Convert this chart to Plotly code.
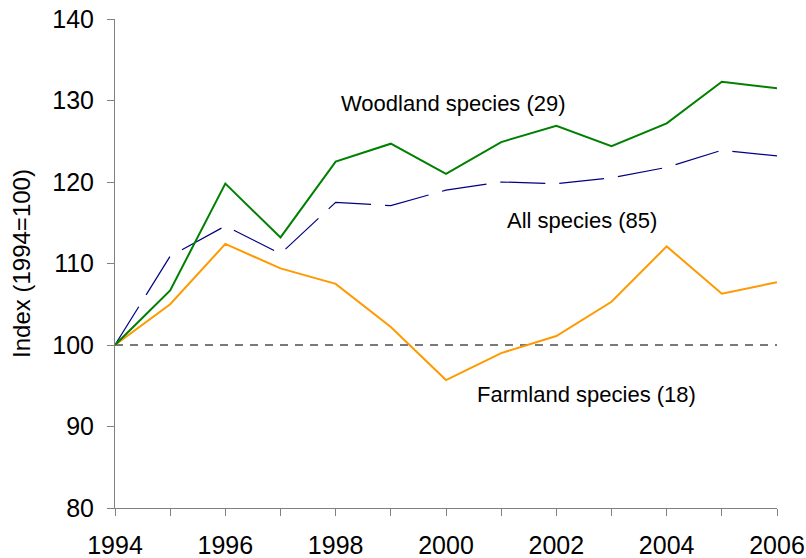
import plotly.graph_objects as go

years = list(range(1994, 2007))
woodland = [100, 106.7, 119.8, 113.2, 122.5, 124.7, 121.0, 124.9, 126.9, 124.4, 127.2, 132.3, 131.5]
all_species = [100, 110.9, 114.6, 111.2, 117.5, 117.1, 119.0, 120.0, 119.8, 120.5, 121.8, 123.9, 123.2]
farmland = [100, 105.0, 112.4, 109.4, 107.5, 102.2, 95.7, 99.0, 101.1, 105.3, 112.1, 106.3, 107.7]
baseline_x = [1994, 2006]
baseline_y = [100, 100]

labels = ["Woodland species (29)", "All species (85)", "Farmland species (18)"]
label_x = [2000.14, 2002.46, 2002.55]
label_y = [129.6, 115.3, 93.9]

font = "Liberation Sans, Arial, sans-serif"

fig = go.Figure()
fig.add_trace(go.Scatter(x=baseline_x, y=baseline_y, mode="lines",
                         line=dict(color="#4d4d4d", width=1.3, dash="8px,7px")))
fig.add_trace(go.Scatter(x=years, y=all_species, mode="lines",
                         line=dict(color="#000080", width=1.2, dash="45px,14px")))
fig.add_trace(go.Scatter(x=years, y=farmland, mode="lines",
                         line=dict(color="#FF9900", width=2)))
fig.add_trace(go.Scatter(x=years, y=woodland, mode="lines",
                         line=dict(color="#008000", width=2)))

for t, x, y in zip(labels, label_x, label_y):
    fig.add_annotation(x=x, y=y, text=t, showarrow=False,
                       font=dict(family=font, size=22, color="#000000"))

fig.update_layout(
    width=806, height=558,
    margin=dict(l=115, r=29, t=19, b=50),
    paper_bgcolor="white", plot_bgcolor="white",
    showlegend=False,
    font=dict(family=font, color="#000000"),
)
fig.update_xaxes(range=[1994, 2006], tickmode="linear", tick0=1994, dtick=2,
                 automargin=False,
                 showgrid=False, zeroline=False, showline=True, linecolor="#808080",
                 linewidth=1, ticks="outside", ticklen=7, tickcolor="#808080",
                 minor=dict(dtick=1, ticks="outside", ticklen=7, tickcolor="#808080"),
                 ticklabelstandoff=8,
                 tickfont=dict(family=font, size=25))
fig.update_yaxes(range=[80, 140], dtick=10, showgrid=False, zeroline=False,
                 automargin=False,
                 showline=True, linecolor="#808080", linewidth=1,
                 ticks="outside", ticklen=7, tickcolor="#808080",
                 ticklabelstandoff=8,
                 tickfont=dict(family=font, size=25),
                 title=dict(text="Index (1994=100)", font=dict(family=font, size=24), standoff=14))

fig.write_html("out.html", config={"displayModeBar": False},
               post_script="document.body.style.margin='0';document.body.style.overflow='hidden';")
